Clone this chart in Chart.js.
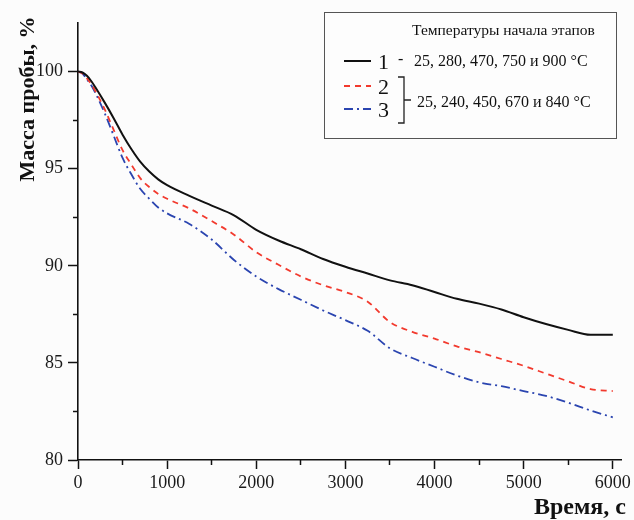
<!DOCTYPE html>
<html>
<head>
<meta charset="utf-8">
<script src="https://cdn.jsdelivr.net/npm/chart.js@4.4.0/dist/chart.umd.min.js"></script>
<style>
  html, body { margin: 0; padding: 0; background: #fcfcfc; }
  #wrap { width: 634px; height: 520px; position: relative; }
</style>
</head>
<body>
<div id="wrap"><canvas id="c" width="634" height="520"></canvas></div>
<script>
// ---- data ----
const timeS = [0, 50, 100, 150, 200, 300, 400, 500, 600, 700, 800, 900, 1000, 1250, 1500, 1750, 2000, 2250, 2500, 2750, 3000, 3250, 3500, 3750, 4000, 4250, 4500, 4750, 5000, 5250, 5500, 5750, 6000];
const mass1 = [100, 99.95, 99.78, 99.5, 99.15, 98.4, 97.6, 96.75, 96.0, 95.35, 94.85, 94.45, 94.15, 93.6, 93.1, 92.6, 91.85, 91.3, 90.85, 90.35, 89.95, 89.6, 89.25, 89.0, 88.65, 88.3, 88.05, 87.75, 87.35, 87.0, 86.7, 86.45, 86.45];
const mass2 = [100, 99.9, 99.65, 99.35, 98.95, 98.05, 97.0, 95.95, 95.2, 94.5, 94.05, 93.7, 93.45, 92.95, 92.3, 91.6, 90.7, 90.05, 89.45, 89.0, 88.65, 88.15, 87.1, 86.6, 86.25, 85.85, 85.55, 85.2, 84.85, 84.45, 84.05, 83.65, 83.55];
const mass3 = [100, 99.9, 99.6, 99.28, 98.85, 97.85, 96.7, 95.55, 94.7, 93.95, 93.45, 93.0, 92.7, 92.15, 91.35, 90.3, 89.45, 88.8, 88.25, 87.7, 87.2, 86.65, 85.75, 85.25, 84.8, 84.35, 84.0, 83.8, 83.55, 83.3, 82.95, 82.55, 82.2];
const seriesNames = ['1', '2', '3'];
const xMajorTicks = [0, 1000, 2000, 3000, 4000, 5000, 6000];
const xMinorTicks = [500, 1500, 2500, 3500, 4500, 5500];
const yMajorTicks = [80, 85, 90, 95, 100];
const yMinorTicks = [82.5, 87.5, 92.5, 97.5];
const xTitle = 'Время, с';
const yTitle = 'Масса пробы, %';
const legendTitle = 'Температуры начала этапов';
const legendText1 = '25, 280, 470, 750 и 900 °C';
const legendText23 = '25, 240, 450, 670 и 840 °C';

const pts = arr => arr.map((v, i) => ({ x: timeS[i], y: v }));
const SERIF = '"Liberation Serif", "Times New Roman", serif';
const X_MIN = 0, X_MAX = 6100, Y_MIN = 80, Y_MAX = 102.5;

const titlesAndLegend = {
  id: 'titlesAndLegend',
  afterDraw(chart) {
    const ctx = chart.ctx;
    ctx.save();
    ctx.fillStyle = '#111';
    // y title
    ctx.save();
    ctx.translate(28, 99);
    ctx.rotate(-Math.PI / 2);
    ctx.font = 'bold 22px ' + SERIF;
    ctx.textAlign = 'center';
    ctx.textBaseline = 'middle';
    ctx.fillText(yTitle, 0, 0);
    ctx.restore();
    // x title
    ctx.font = 'bold 24px ' + SERIF;
    ctx.textAlign = 'right';
    ctx.textBaseline = 'middle';
    ctx.fillText(xTitle, 626, 508);

    // legend box
    ctx.fillStyle = '#fdfdfd';
    ctx.fillRect(324.5, 12.5, 292, 126);
    ctx.strokeStyle = '#555';
    ctx.lineWidth = 1;
    ctx.strokeRect(324.5, 12.5, 292, 126);
    ctx.fillStyle = '#111';
    ctx.font = '15.5px ' + SERIF;
    ctx.textAlign = 'left';
    ctx.textBaseline = 'middle';
    ctx.fillText(legendTitle, 412, 31);

    const ds = chart.data.datasets;
    const rows = [61, 86, 109];
    ds.forEach((d, i) => {
      ctx.save();
      ctx.strokeStyle = d.borderColor;
      ctx.lineWidth = d.borderWidth;
      ctx.setLineDash(d.borderDash || []);
      ctx.beginPath();
      ctx.moveTo(344, rows[i]);
      ctx.lineTo(371, rows[i]);
      ctx.stroke();
      ctx.restore();
      ctx.font = '22px ' + SERIF;
      ctx.fillText(d.label, 378, rows[i] + 2);
    });
    ctx.font = '16px ' + SERIF;
    ctx.fillText('-', 398, 60);
    ctx.fillText(legendText1, 414, 62);
    // bracket
    ctx.strokeStyle = '#222';
    ctx.lineWidth = 1.3;
    ctx.beginPath();
    ctx.moveTo(398, 77); ctx.lineTo(404, 77); ctx.lineTo(404, 123); ctx.lineTo(398, 123);
    ctx.moveTo(404, 100); ctx.lineTo(411, 100);
    ctx.stroke();
    ctx.fillText(legendText23, 417, 103);
    ctx.restore();
  }
};

const bgPlugin = {
  id: 'bg',
  beforeDraw(chart) {
    const ctx = chart.ctx;
    ctx.save();
    ctx.fillStyle = '#fcfcfc';
    ctx.fillRect(0, 0, chart.width, chart.height);
    ctx.restore();
  }
};

const setTicks = list => scale => {
  scale.ticks = list.map(v => ({ value: v }));
};

new Chart(document.getElementById('c'), {
  type: 'line',
  data: {
    datasets: [
      { label: seriesNames[0], data: pts(mass1), borderColor: '#111111', borderWidth: 2, pointRadius: 0, cubicInterpolationMode: 'monotone', xAxisID: 'x', yAxisID: 'y' },
      { label: seriesNames[1], data: pts(mass2), borderColor: '#f23a2e', borderWidth: 1.8, borderDash: [6, 5], pointRadius: 0, cubicInterpolationMode: 'monotone', xAxisID: 'x', yAxisID: 'y' },
      { label: seriesNames[2], data: pts(mass3), borderColor: '#2b45b0', borderWidth: 1.8, borderDash: [9, 4, 2, 4], pointRadius: 0, cubicInterpolationMode: 'monotone', xAxisID: 'x', yAxisID: 'y' }
    ]
  },
  options: {
    responsive: false,
    animation: false,
    layout: { padding: { top: 23, right: 12, left: 0, bottom: 0 } },
    plugins: { legend: { display: false }, tooltip: { enabled: false } },
    scales: {
      xMinor: {
        type: 'linear', position: 'bottom', weight: 0, min: X_MIN, max: X_MAX,
        ticks: { display: false, autoSkip: false },
        afterBuildTicks: setTicks(xMinorTicks),
        grid: { drawOnChartArea: false, drawTicks: true, tickLength: 5, color: '#111', tickWidth: 1.5 },
        border: { display: false },
        afterFit: s => { s.height = 0; }
      },
      x: {
        type: 'linear', position: 'bottom', weight: 1, min: X_MIN, max: X_MAX,
        ticks: { autoSkip: false, color: '#1a1a1a', font: { family: SERIF, size: 18 }, padding: 3, maxRotation: 0, callback: v => String(v) },
        afterBuildTicks: setTicks(xMajorTicks),
        grid: { drawOnChartArea: false, drawTicks: true, tickLength: 9, color: '#111', tickWidth: 1.5 },
        border: { display: true, color: '#111', width: 1.6 },
        afterFit: s => { s.height = 60; }
      },
      yMinor: {
        type: 'linear', position: 'left', weight: 0, min: Y_MIN, max: Y_MAX,
        ticks: { display: false, autoSkip: false },
        afterBuildTicks: setTicks(yMinorTicks),
        grid: { drawOnChartArea: false, drawTicks: true, tickLength: 5, color: '#111', tickWidth: 1.5 },
        border: { display: false },
        afterFit: s => { s.width = 0; }
      },
      y: {
        type: 'linear', position: 'left', weight: 1, min: Y_MIN, max: Y_MAX,
        ticks: { autoSkip: false, color: '#1a1a1a', font: { family: SERIF, size: 18 }, padding: 5, callback: v => String(v) },
        afterBuildTicks: setTicks(yMajorTicks),
        grid: { drawOnChartArea: false, drawTicks: true, tickLength: 10, color: '#111', tickWidth: 1.5 },
        border: { display: true, color: '#111', width: 1.6 },
        afterFit: s => { s.width = 78; }
      }
    }
  },
  plugins: [bgPlugin, titlesAndLegend]
});
</script>
</body>
</html>
